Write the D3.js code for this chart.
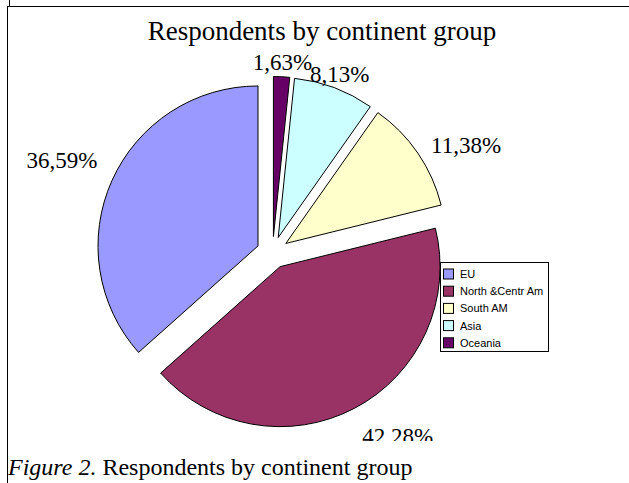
<!DOCTYPE html>
<html><head><meta charset="utf-8">
<script src="https://cdn.jsdelivr.net/npm/d3@7"></script>
<style>html,body{margin:0;padding:0;background:#fff;}svg{display:block;}</style>
</head><body>
<script>
const categories = ["EU", "North &Centr Am", "South AM", "Asia", "Oceania"];
const values = [36.59, 42.28, 11.38, 8.13, 1.63];
const labels = ["36,59%", "42,28%", "11,38%", "8,13%", "1,63%"];
const colors = ["#9999ff", "#993366", "#ffffcc", "#ccffff", "#660066"];
const title = "Respondents by continent group";
const captionItalic = "Figure 2.";
const captionRest = " Respondents by continent group";

const W = 629, H = 483;
const svg = d3.select("body").append("svg").attr("width", W).attr("height", H);

// frame lines
svg.append("line").attr("x1", 9.5).attr("y1", 0).attr("x2", 9.5).attr("y2", 6).attr("stroke", "#000");
svg.append("line").attr("x1", 7).attr("y1", 6.5).attr("x2", W).attr("y2", 6.5).attr("stroke", "#000");
svg.append("line").attr("x1", 7.5).attr("y1", 6).attr("x2", 7.5).attr("y2", H).attr("stroke", "#000");

svg.append("defs").append("clipPath").attr("id", "chartClip")
  .append("rect").attr("x", 8).attr("y", 7).attr("width", W - 8).attr("height", 434);

const chart = svg.append("g").attr("clip-path", "url(#chartClip)");

chart.append("text").attr("x", 322).attr("y", 40).attr("text-anchor", "middle")
  .attr("font-family", "'Liberation Serif', 'Times New Roman', serif").attr("font-size", 27)
  .text(title);

const cx = 272.6, cy = 252.5, r = 160, explode = 16;
const pie = d3.pie().sort(null).startAngle(0).endAngle(-2 * Math.PI);
const arcs = pie(values);
const arc = d3.arc().innerRadius(0).outerRadius(r);

const g = chart.append("g").attr("transform", `translate(${cx},${cy})`);
arcs.forEach((a, i) => {
  const m = (a.startAngle + a.endAngle) / 2;
  const dx = Math.sin(m), dy = -Math.cos(m);
  g.append("path").attr("d", arc(a))
    .attr("transform", `translate(${dx * explode},${dy * explode})`)
    .attr("fill", colors[i]).attr("stroke", "#000").attr("stroke-width", 1).attr("stroke-linejoin", "round");
});

// labels: sector-based alignment around a label circle
const R = 192, fs = 23;
arcs.forEach((a, i) => {
  const m = (a.startAngle + a.endAngle) / 2;
  const dx = Math.sin(m), dy = -Math.cos(m);
  let deg = Math.atan2(-dy, dx) * 180 / Math.PI; // math angle, ccw from +x
  if (deg < 0) deg += 360;
  let anchor, vpos;
  if (deg < 67.5 || deg >= 292.5) anchor = "start";
  else if (deg < 112.5 || (deg >= 247.5 && deg < 292.5)) anchor = "middle";
  else anchor = "end";
  if (deg < 112.5 || (deg >= 157.5 && deg < 202.5)) vpos = "center";
  else if (deg < 157.5) vpos = "above";
  else vpos = "below";
  const px = dx * R, py = dy * R;
  const by = vpos === "center" ? py + 9 : vpos === "above" ? py - 6 : py + 0.95 * fs;
  g.append("text")
    .attr("font-family", "'Liberation Serif', 'Times New Roman', serif").attr("font-size", fs)
    .attr("x", px).attr("y", by).attr("text-anchor", anchor)
    .text(labels[i]);
});

// legend
const lg = chart.append("g");
lg.append("rect").attr("x", 440.5).attr("y", 262.5).attr("width", 108).attr("height", 89)
  .attr("fill", "#fff").attr("stroke", "#000").attr("stroke-width", 1);
categories.forEach((c, i) => {
  const yy = 274 + i * 17.2;
  lg.append("rect").attr("x", 443.5).attr("y", yy - 5).attr("width", 10).attr("height", 10)
    .attr("fill", colors[i]).attr("stroke", "#000").attr("stroke-width", 1);
  lg.append("text").attr("x", 460).attr("y", yy + 4)
    .attr("font-family", "'Liberation Sans', Arial, sans-serif").attr("font-size", 11)
    .text(c);
});

// caption
const cap = svg.append("text").attr("x", 8).attr("y", 475)
  .attr("font-family", "'Liberation Serif', 'Times New Roman', serif").attr("font-size", 24);
cap.append("tspan").attr("font-style", "italic").text(captionItalic);
cap.append("tspan").text(captionRest);
</script>
</body></html>
